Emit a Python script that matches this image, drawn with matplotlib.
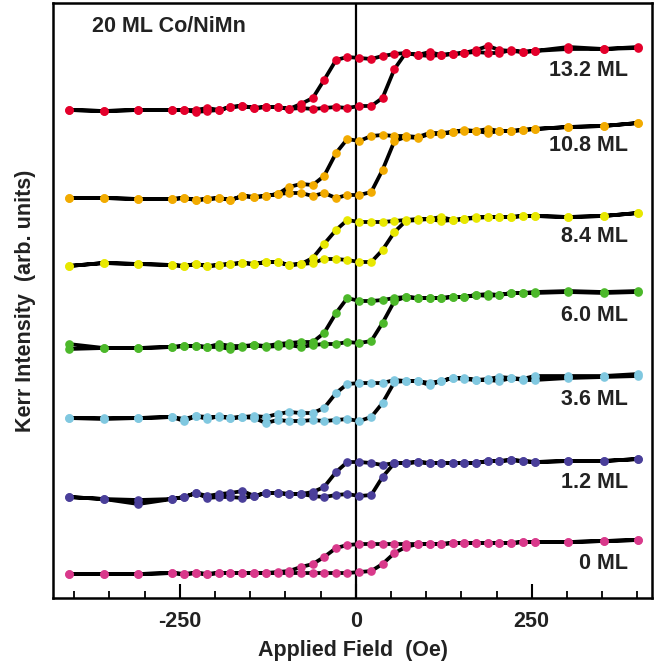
import matplotlib
matplotlib.use("Agg")
import matplotlib.pyplot as plt
from matplotlib.ticker import MultipleLocator

plt.rcParams['font.family'] = ['Liberation Sans', 'DejaVu Sans']
plt.rcParams['axes.unicode_minus'] = False

# Applied field (Oe) sample points, shared by both branches
field = [-408, -358, -309, -261, -244, -227, -211, -194, -178, -161, -144, -128, -111,
         -95, -78, -61, -45, -28, -12, 5, 22, 38, 55, 71, 88, 105, 121, 138, 154, 171,
         188, 204, 221, 237, 254, 302, 352, 401]

labels = ["13.2 ML", "10.8 ML", "8.4 ML", "6.0 ML", "3.6 ML", "1.2 ML", "0 ML"]
colors = ["#e4002b", "#f2ab00", "#e8e800", "#4cb82a", "#80c8e0", "#4a3f9a", "#d9398b"]

# Kerr intensity (arb. units, vertically offset), ascending branch (field increasing)
asc_132 = [490, 489, 490, 490, 490, 488, 489, 490, 493, 494, 492, 493, 493, 491, 492, 491, 492, 493, 492,
           494, 494, 502, 531, 547, 545, 544, 545, 546, 547, 548, 547, 547, 550, 548, 549, 551, 551, 552]
asc_108 = [402, 402, 401, 401, 402, 400, 401, 402, 400, 404, 403, 404, 406, 407, 407, 404, 407, 402, 405,
           405, 408, 430, 459, 463, 462, 466, 466, 468, 469, 469, 467, 469, 469, 470, 471, 473, 474, 477]
asc_84 = [334, 337, 336, 335, 334, 336, 334, 335, 336, 337, 336, 338, 338, 335, 336, 337, 341, 341, 340,
          338, 338, 350, 368, 379, 380, 381, 379, 380, 381, 382, 383, 383, 383, 384, 384, 383, 384, 387]
asc_60 = [251, 252, 252, 253, 254, 254, 253, 253, 251, 253, 255, 253, 254, 255, 253, 255, 256, 256, 258,
          257, 259, 277, 299, 303, 302, 302, 302, 303, 303, 305, 304, 305, 307, 307, 307, 308, 307, 308]
asc_36 = [182, 182, 182, 183, 179, 184, 181, 184, 182, 183, 182, 177, 180, 179, 179, 180, 179, 180, 181,
          179, 183, 197, 218, 219, 219, 215, 219, 222, 221, 220, 220, 219, 222, 220, 220, 222, 223, 224]
asc_12 = [103, 101, 96, 101, 103, 107, 102, 103, 103, 102, 104, 107, 107, 106, 106, 104, 103, 105, 106,
          104, 105, 123, 137, 137, 138, 137, 137, 137, 137, 137, 139, 139, 140, 139, 138, 139, 139, 141]
asc_0 = [26, 26, 26, 27, 26, 27, 26, 27, 27, 27, 27, 27, 27, 27, 27, 27, 27, 27, 27,
         28, 29, 36, 47, 53, 56, 56, 56, 57, 57, 57, 57, 57, 57, 58, 58, 58, 59, 60]

# Descending branch (field decreasing), listed at the same field points
desc_132 = [490, 489, 490, 490, 490, 490, 492, 490, 493, 494, 492, 493, 493, 491, 496, 502, 520, 540, 543,
            542, 541, 544, 546, 547, 545, 548, 545, 546, 547, 550, 554, 550, 549, 548, 549, 553, 551, 553]
desc_108 = [402, 402, 401, 401, 402, 400, 401, 402, 400, 404, 403, 404, 406, 413, 416, 415, 424, 447, 461,
            459, 464, 465, 464, 464, 463, 467, 467, 468, 470, 469, 471, 469, 469, 470, 471, 473, 474, 477]
desc_84 = [334, 337, 336, 335, 334, 336, 334, 335, 336, 337, 336, 338, 338, 335, 336, 342, 356, 370, 380,
           378, 378, 378, 379, 380, 381, 381, 383, 380, 381, 383, 383, 383, 383, 384, 384, 383, 384, 387]
desc_60 = [256, 252, 252, 253, 254, 254, 253, 256, 254, 254, 255, 254, 256, 257, 258, 258, 267, 287, 302,
           299, 299, 300, 302, 303, 302, 302, 302, 303, 303, 305, 306, 305, 307, 307, 308, 309, 308, 309]
desc_36 = [182, 181, 182, 183, 181, 184, 183, 183, 182, 183, 184, 183, 186, 188, 187, 187, 192, 207, 216,
           217, 217, 217, 220, 219, 219, 217, 219, 222, 222, 220, 221, 223, 222, 221, 224, 224, 224, 226]
desc_12 = [103, 101, 100, 101, 103, 107, 104, 106, 107, 109, 104, 107, 107, 106, 106, 108, 113, 128, 138,
           138, 137, 135, 137, 137, 138, 137, 137, 137, 137, 137, 139, 139, 140, 139, 138, 139, 139, 141]
desc_0 = [26, 26, 26, 27, 26, 27, 26, 27, 27, 27, 27, 27, 28, 29, 33, 36, 43, 52, 55,
          56, 56, 56, 56, 56, 56, 56, 56, 57, 57, 57, 57, 57, 57, 58, 58, 58, 59, 60]

ascending = [asc_132, asc_108, asc_84, asc_60, asc_36, asc_12, asc_0]
descending = [desc_132, desc_108, desc_84, desc_60, desc_36, desc_12, desc_0]

TXT = '#222222'
FS = 15.5

fig = plt.figure(figsize=(6.56, 6.63), dpi=100)
ax = fig.add_axes([0.081, 0.098, 0.913, 0.8975])

for lab, col, a, d in zip(labels, colors, ascending, descending):
    xs = list(reversed(field)) + list(field)
    ys = list(reversed(d)) + list(a)
    ax.plot(xs, ys, color='black', lw=2.7, solid_joinstyle='round', zorder=2)
    ax.plot(xs, ys, ls='none', marker='o', ms=5.2, mfc=col, mec=col, zorder=3)
    ax.text(387, a[-1] - 23, lab, ha='right', va='center', fontsize=FS,
            fontweight='bold', color=TXT)

ax.axvline(0, color='black', lw=1.6, zorder=1)

ax.text(-375, 573, "20 ML Co/NiMn", ha='left', va='center', fontsize=FS,
        fontweight='bold', color=TXT)

ax.set_xlim(-430, 421)
ax.set_ylim(2, 597)
ax.set_yticks([])
ax.xaxis.set_major_locator(MultipleLocator(250))
ax.xaxis.set_minor_locator(MultipleLocator(50))
ax.tick_params(axis='x', which='major', direction='in', length=10, width=1.5,
               labelsize=FS, pad=9, top=False, labelcolor=TXT)
ax.tick_params(axis='x', which='minor', direction='in', length=5, width=1.3, top=False)
for lbl in ax.get_xticklabels():
    lbl.set_fontweight('bold')
for s in ax.spines.values():
    s.set_linewidth(1.8)

ax.set_xlabel("Applied Field  (Oe)", fontsize=FS, fontweight='bold', labelpad=6, color=TXT)
ax.set_ylabel("Kerr Intensity  (arb. units)", fontsize=FS, fontweight='bold', labelpad=12,
              color=TXT)

fig.savefig("out.png", dpi=100)
